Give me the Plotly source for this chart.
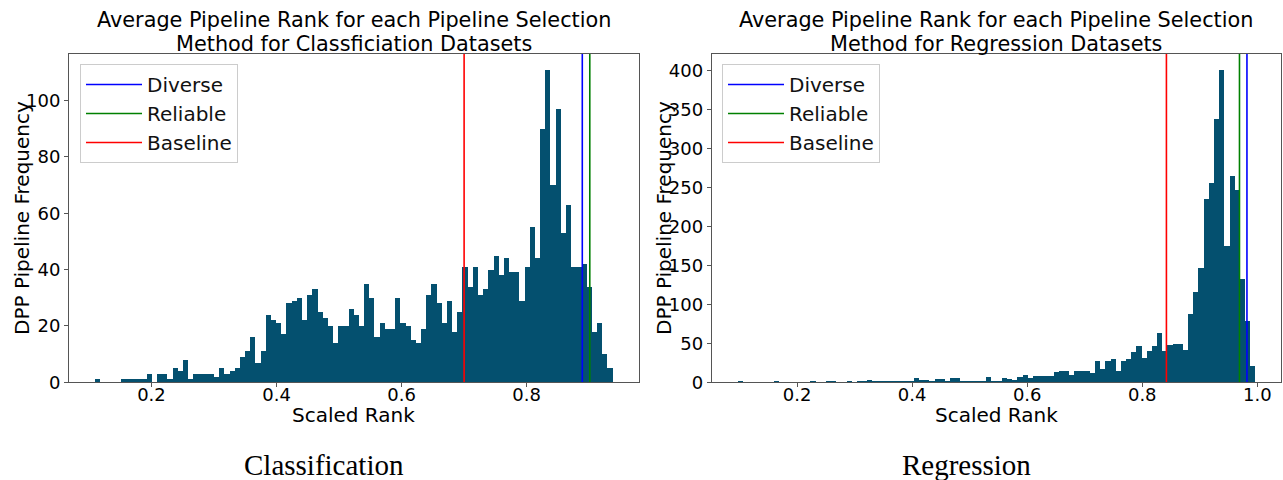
import numpy as np
import plotly.graph_objects as go

# ---------------- data ----------------
# Classification: 100-bin histogram of scaled rank
cls_counts = [1, 0, 0, 0, 0, 1, 1, 1, 1, 1,
              3, 0, 3, 3, 1, 5, 4, 8, 1, 3,
              3, 3, 3, 2, 5, 3, 4, 5, 9, 11,
              16, 7, 11, 24, 22, 21, 17, 28, 29, 30,
              22, 31, 33, 25, 23, 20, 14, 20, 20, 26,
              24, 20, 35, 30, 16, 21, 19, 19, 30, 21,
              20, 15, 14, 19, 31, 35, 28, 21, 29, 18,
              25, 41, 34, 41, 31, 33, 40, 45, 38, 44,
              39, 39, 29, 41, 55, 44, 90, 111, 70, 97,
              53, 63, 41, 41, 42, 34, 18, 21, 10, 5]
cls_min, cls_max = 0.1095, 0.9375

# Regression: 100-bin histogram of scaled rank
reg_counts = [1, 0, 0, 0, 0, 0, 0, 1, 0, 0,
              0, 0, 0, 0, 1, 0, 0, 1, 1, 0,
              0, 1, 0, 1, 2, 3, 1, 1, 1, 1,
              1, 1, 2, 2, 5, 3, 3, 2, 4, 4,
              2, 5, 6, 1, 1, 2, 2, 2, 7, 1,
              1, 5, 4, 3, 7, 9, 5, 8, 8, 8,
              8, 13, 14, 15, 9, 14, 14, 14, 12, 27,
              17, 27, 30, 15, 27, 30, 39, 47, 31, 40,
              46, 63, 40, 48, 49, 49, 42, 88, 116, 146,
              235, 256, 338, 401, 175, 264, 247, 133, 79, 21]
reg_min, reg_max = 0.0965, 0.9962

methods = ["Diverse", "Reliable", "Baseline"]
cls_method_ranks = [0.889, 0.901, 0.700]
reg_method_ranks = [0.982, 0.969, 0.842]

x_ticks_cls = [0.2, 0.4, 0.6, 0.8]
x_ticks_reg = [0.2, 0.4, 0.6, 0.8, 1.0]
y_ticks_cls = [0, 20, 40, 60, 80, 100]
y_ticks_reg = [0, 50, 100, 150, 200, 250, 300, 350, 400]

title_cls = ["Average Pipeline Rank for each Pipeline Selection",
             "Method for Classficiation Datasets"]
title_reg = ["Average Pipeline Rank for each Pipeline Selection",
             "Method for Regression Datasets"]
captions = ["Classification", "Regression"]

# ---------------- style ----------------
W, H = 1283, 480
BAR = "#04506F"
LINE_COLORS = ["#0000FF", "#008000", "#FF0000"]
FONT = "DejaVu Sans"
SPINE = "#555555"

fig = go.Figure()


def add_panel(counts, lo, hi, ranks, xa, ya, legend_name):
    counts = np.asarray(counts)
    n = len(counts)
    edges = np.linspace(lo, hi, n + 1)
    centers = (edges[:-1] + edges[1:]) / 2
    w = edges[1] - edges[0]
    fig.add_trace(go.Bar(x=centers, y=counts, width=w, xaxis=xa, yaxis=ya,
                         marker=dict(color=BAR, line=dict(width=0)),
                         showlegend=False, hoverinfo="x+y"))
    ytop = 1.05 * counts.max()
    for m, r, c in zip(methods, ranks, LINE_COLORS):
        fig.add_trace(go.Scatter(x=[r, r], y=[0, ytop], mode="lines", name=m,
                                 line=dict(color=c, width=1.6),
                                 xaxis=xa, yaxis=ya, legend=legend_name))
    R = hi - lo
    return [lo - 0.05 * R, hi + 0.05 * R], [0, ytop]


xr1, yr1 = add_panel(cls_counts, cls_min, cls_max, cls_method_ranks, "x", "y", "legend")
xr2, yr2 = add_panel(reg_counts, reg_min, reg_max, reg_method_ranks, "x2", "y2", "legend2")

ydom = [1 - 382.3 / H, 1 - 54 / H]
axis_common = dict(showgrid=False, zeroline=False, showline=True, mirror=True,
                   linecolor=SPINE, linewidth=1, ticks="outside", ticklen=4,
                   tickcolor=SPINE, automargin=False,
                   tickfont=dict(family=FONT, size=18, color="black"))

legend_common = dict(xanchor="left", yanchor="top",
                     bgcolor="rgba(255,255,255,0.8)", bordercolor="#cccccc", borderwidth=1,
                     font=dict(family=FONT, size=20, color="#111111"), itemwidth=56,
                     tracegroupgap=0)

fig.update_layout(
    template="none",
    width=W, height=H,
    margin=dict(l=0, r=0, t=0, b=0, autoexpand=False),
    paper_bgcolor="white", plot_bgcolor="white",
    bargap=0,
    font=dict(family=FONT, color="black"),
    xaxis=dict(domain=[69 / W, 638.5 / W], range=xr1, tickvals=x_ticks_cls,
               tickformat=".1f", anchor="y", ticklabelstandoff=-8, **axis_common),
    yaxis=dict(domain=ydom, range=yr1, tickvals=y_ticks_cls, anchor="x", **axis_common),
    xaxis2=dict(domain=[711.7 / W, 1281 / W], range=xr2, tickvals=x_ticks_reg,
                tickformat=".1f", anchor="y2", ticklabelstandoff=-8, **axis_common),
    yaxis2=dict(domain=ydom, range=yr2, tickvals=y_ticks_reg, anchor="x2", **axis_common),
    legend=dict(x=80 / W, y=1 - 64 / H, **legend_common),
    legend2=dict(x=722 / W, y=1 - 64 / H, **legend_common),
)

ann = []
for cx, lines, ylab_x, cap_x, cap in [
        ((69 + 638.5) / 2 / W, title_cls, 22 / W, 324 / W, captions[0]),
        ((711.7 + 1281) / 2 / W, title_reg, 664 / W, 966.5 / W, captions[1])]:
    for i, t in enumerate(lines):
        ann.append(dict(text=t, x=cx, y=1 - (20 + 24 * i) / H, xref="paper", yref="paper",
                        showarrow=False, xanchor="center", yanchor="middle",
                        font=dict(family=FONT, size=20.8, color="black")))
    ann.append(dict(text="Scaled Rank", x=cx, y=1 - 415 / H, xref="paper", yref="paper",
                    showarrow=False, xanchor="center", yanchor="middle",
                    font=dict(family=FONT, size=20, color="black")))
    ann.append(dict(text="DPP Pipeline Frequency", x=ylab_x, y=1 - 218 / H,
                    xref="paper", yref="paper", showarrow=False, textangle=-90,
                    xanchor="center", yanchor="middle",
                    font=dict(family=FONT, size=20, color="black")))
    ann.append(dict(text=cap, x=cap_x, y=1 - 465 / H, xref="paper", yref="paper",
                    showarrow=False, xanchor="center", yanchor="middle",
                    font=dict(family="Liberation Serif", size=29, color="black")))
fig.update_layout(annotations=ann)

fig.write_html("out.html", config={"displayModeBar": False},
               post_script="document.body.style.margin='0';document.body.style.overflow='hidden';")
